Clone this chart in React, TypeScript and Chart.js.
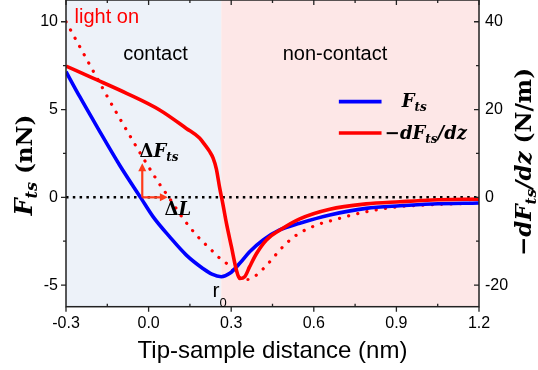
import React, { useEffect, useRef } from 'react';
import { Chart, registerables } from 'chart.js';

Chart.register(...registerables);

// ---------- data ----------
const xTicks = [-0.3, 0, 0.3, 0.6, 0.9, 1.2];
const xMinorTicks = [-0.15, 0.15, 0.45, 0.75, 1.05];
const leftTicks = [-5, 0, 5, 10];
const leftMinorTicks = [-2.5, 2.5, 7.5];
const rightTicks = [-20, 0, 20, 40];
const rightMinorTicks = [-10, 10, 30];

const X_MIN = -0.3;
const X_MAX = 1.2;
const L_MIN = -6.23;
const L_MAX = 11.24;
const R_MIN = -24.92;
const R_MAX = 44.96;

const r0 = 0.264; // contact / non-contact boundary (nm)

// F_ts (nN), left axis
const ftsX = [-0.3, -0.25, -0.184, -0.105, -0.027, 0.016, 0.076, 0.137, 0.197, 0.23, 0.264, 0.295, 0.331, 0.367, 0.416, 0.476, 0.549, 0.658, 0.79, 0.913, 1.03, 1.2];
const ftsY = [7.16, 5.73, 3.93, 1.83, -0.06, -1.1, -2.24, -3.29, -4.05, -4.38, -4.52, -4.33, -3.76, -3.1, -2.43, -1.86, -1.48, -1.01, -0.63, -0.48, -0.38, -0.32];

// -dF_ts/dz (N/m), right axis
const dfdzX = [-0.3, -0.2, -0.08, 0.04, 0.137, 0.185, 0.204, 0.222, 0.234, 0.246, 0.258, 0.27, 0.283, 0.301, 0.319, 0.331, 0.349, 0.367, 0.392, 0.428, 0.476, 0.549, 0.658, 0.79, 0.913, 1.03, 1.2];
const dfdzY = [29.9, 27.1, 23.7, 19.9, 15.7, 13.5, 12.0, 10.4, 9.0, 6.5, 2.2, -1.6, -6.0, -11.3, -16.6, -18.5, -18.1, -15.8, -12.8, -9.7, -7.5, -4.9, -2.7, -1.5, -1.0, -0.6, -0.4];

// light on (dotted), left axis
const lightX = [-0.3, -0.2, -0.112, 0.034, 0.076, 0.125, 0.179, 0.228, 0.252, 0.283, 0.33, 0.36, 0.39, 0.44, 0.488, 0.537, 0.61, 0.67, 0.79, 0.913, 1.03, 1.2];
const lightY = [10.0, 7.16, 4.69, 0.89, -0.06, -1.2, -2.24, -3.0, -3.38, -3.76, -4.55, -4.68, -4.45, -3.67, -2.81, -2.15, -1.58, -1.3, -0.82, -0.53, -0.42, -0.32];

// arrows: ΔF_ts (vertical) and ΔL (horizontal), from the blue zero crossing
const arrowOrigin = [-0.023, 0];
const arrowDF = 1.94;
const arrowDL = 0.07;

const zip = (xs: number[], ys: number[]) => xs.map((x, i) => ({ x, y: ys[i] }));

// ---------- text helpers ----------
type Seg = { t: string; f: string; dy?: number };
const SERIF = '"DejaVu Serif", "Liberation Serif", serif';
const SANS = '"Liberation Sans", Arial, sans-serif';

function segsWidth(ctx: CanvasRenderingContext2D, segs: Seg[]) {
  let w = 0;
  for (const s of segs) {
    ctx.font = s.f;
    w += ctx.measureText(s.t).width;
  }
  return w;
}
function drawSegs(ctx: CanvasRenderingContext2D, segs: Seg[], x: number, y: number) {
  let cx = x;
  for (const s of segs) {
    ctx.font = s.f;
    ctx.fillText(s.t, cx, y + (s.dy || 0));
    cx += ctx.measureText(s.t).width;
  }
}

function arrow(ctx: CanvasRenderingContext2D, x1: number, y1: number, x2: number, y2: number, color: string) {
  const ang = Math.atan2(y2 - y1, x2 - x1);
  const hl = 8;
  const hw = 4;
  ctx.save();
  ctx.strokeStyle = color;
  ctx.fillStyle = color;
  ctx.lineWidth = 2.2;
  ctx.beginPath();
  ctx.moveTo(x1, y1);
  ctx.lineTo(x2 - Math.cos(ang) * hl * 0.8, y2 - Math.sin(ang) * hl * 0.8);
  ctx.stroke();
  ctx.beginPath();
  ctx.moveTo(x2, y2);
  ctx.lineTo(x2 - Math.cos(ang) * hl - Math.sin(ang) * hw, y2 - Math.sin(ang) * hl + Math.cos(ang) * hw);
  ctx.lineTo(x2 - Math.cos(ang) * hl + Math.sin(ang) * hw, y2 - Math.sin(ang) * hl - Math.cos(ang) * hw);
  ctx.closePath();
  ctx.fill();
  ctx.restore();
}

const decorPlugin = {
  id: 'decor',
  beforeDatasetsDraw(chart: any) {
    const { ctx, chartArea: a, scales } = chart;
    const xr = scales.x.getPixelForValue(r0);
    ctx.save();
    ctx.fillStyle = '#edf2f9';
    ctx.fillRect(a.left, a.top, xr - a.left, a.bottom - a.top);
    ctx.fillStyle = '#fde7e7';
    ctx.fillRect(xr, a.top, a.right - xr, a.bottom - a.top);
    const y0 = scales.y.getPixelForValue(0);
    ctx.strokeStyle = '#000';
    ctx.lineWidth = 2.5;
    ctx.setLineDash([2.5, 4.3]);
    ctx.beginPath();
    ctx.moveTo(a.left, y0);
    ctx.lineTo(a.right, y0);
    ctx.stroke();
    ctx.restore();
  },
  afterDraw(chart: any) {
    const { ctx, chartArea: a, scales } = chart;
    const sx = scales.x, sy = scales.y, sy2 = scales.y2;
    ctx.save();
    // frame
    ctx.strokeStyle = '#222';
    ctx.lineWidth = 1.5;
    ctx.strokeRect(a.left, a.top, a.right - a.left, a.bottom - a.top);
    ctx.lineWidth = 1.3;
    ctx.beginPath();
    for (const v of xTicks) {
      const p = sx.getPixelForValue(v);
      ctx.moveTo(p, a.bottom); ctx.lineTo(p, a.bottom + 5);
      ctx.moveTo(p, a.top); ctx.lineTo(p, a.top + 5);
    }
    for (const v of xMinorTicks) {
      const p = sx.getPixelForValue(v);
      ctx.moveTo(p, a.bottom); ctx.lineTo(p, a.bottom - 3);
      ctx.moveTo(p, a.top); ctx.lineTo(p, a.top + 3);
    }
    for (const v of leftTicks) {
      const p = sy.getPixelForValue(v);
      ctx.moveTo(a.left, p); ctx.lineTo(a.left - 5, p);
    }
    for (const v of leftMinorTicks) {
      const p = sy.getPixelForValue(v);
      ctx.moveTo(a.left, p); ctx.lineTo(a.left - 3, p);
    }
    for (const v of rightTicks) {
      const p = sy2.getPixelForValue(v);
      ctx.moveTo(a.right, p); ctx.lineTo(a.right - 5, p);
    }
    for (const v of rightMinorTicks) {
      const p = sy2.getPixelForValue(v);
      ctx.moveTo(a.right, p); ctx.lineTo(a.right - 3, p);
    }
    ctx.stroke();

    // arrows
    const ox = sx.getPixelForValue(arrowOrigin[0]);
    const oy = sy.getPixelForValue(arrowOrigin[1]);
    arrow(ctx, ox, oy, ox, sy.getPixelForValue(arrowDF), '#ff3a1a');
    arrow(ctx, ox, oy, sx.getPixelForValue(arrowDL), oy, '#ff3a1a');

    ctx.textBaseline = 'alphabetic';
    ctx.textAlign = 'left';
    // annotation labels
    const bi = (s: number) => `italic bold ${s}px ${SERIF}`;
    const b = (s: number) => `bold ${s}px ${SERIF}`;
    ctx.fillStyle = '#000';
    drawSegs(ctx, [{ t: 'Δ', f: b(18) }, { t: 'F', f: bi(18) }, { t: 'ts', f: bi(12), dy: 4 }], sx.getPixelForValue(-0.033), sy.getPixelForValue(2.3));
    drawSegs(ctx, [{ t: 'Δ', f: b(18) }, { t: 'L', f: bi(18) }], sx.getPixelForValue(0.058), sy.getPixelForValue(-1.0));

    ctx.font = `20px ${SANS}`;
    ctx.fillStyle = '#ff0000';
    ctx.fillText('light on', sx.getPixelForValue(-0.269), sy.getPixelForValue(9.95));
    ctx.fillStyle = '#000';
    ctx.textAlign = 'center';
    ctx.fillText('contact', sx.getPixelForValue(0.025), sy.getPixelForValue(7.85));
    ctx.fillText('non-contact', sx.getPixelForValue(0.677), sy.getPixelForValue(7.85));
    ctx.textAlign = 'left';
    drawSegs(ctx, [{ t: 'r', f: `21px ${SANS}` }, { t: '0', f: `13px ${SANS}`, dy: 10 }], sx.getPixelForValue(0.232), sy.getPixelForValue(-5.65));

    // legend
    const lx1 = sx.getPixelForValue(0.691), lx2 = sx.getPixelForValue(0.846);
    const ly1 = sy.getPixelForValue(5.45), ly2 = sy.getPixelForValue(3.66);
    ctx.lineWidth = 3.6;
    ctx.strokeStyle = '#0000ff';
    ctx.beginPath(); ctx.moveTo(lx1, ly1); ctx.lineTo(lx2, ly1); ctx.stroke();
    ctx.strokeStyle = '#ff0000';
    ctx.beginPath(); ctx.moveTo(lx1, ly2); ctx.lineTo(lx2, ly2); ctx.stroke();
    ctx.fillStyle = '#000';
    drawSegs(ctx, [{ t: 'F', f: bi(18) }, { t: 'ts', f: bi(12), dy: 4 }], sx.getPixelForValue(0.919), ly1 + 5);
    drawSegs(ctx, [{ t: '−', f: b(18) }, { t: 'dF', f: bi(18) }, { t: 'ts', f: bi(12), dy: 4 }, { t: '/', f: bi(18) }, { t: 'dz', f: bi(18) }], sx.getPixelForValue(0.858), ly2 + 6);

    // bottom title
    ctx.font = `24px ${SANS}`;
    ctx.textAlign = 'center';
    ctx.fillText('Tip-sample distance (nm)', (a.left + a.right) / 2, 358);
    ctx.textAlign = 'left';

    // left title (rotated)
    const lt: Seg[] = [{ t: 'F', f: bi(24) }, { t: 'ts', f: bi(16), dy: 5 }, { t: ' (nN)', f: b(23) }];
    const lw = segsWidth(ctx, lt);
    ctx.save();
    ctx.translate(32, 165);
    ctx.rotate(-Math.PI / 2);
    drawSegs(ctx, lt, -lw / 2, 0);
    ctx.restore();

    // right title (rotated)
    const rt: Seg[] = [
      { t: '−', f: b(23) }, { t: 'dF', f: bi(23) }, { t: 'ts', f: bi(15), dy: 5 },
      { t: '/', f: bi(23) }, { t: 'dz', f: bi(23) }, { t: ' (N/m)', f: b(23) },
    ];
    const rw = segsWidth(ctx, rt);
    ctx.save();
    ctx.translate(531, 162);
    ctx.rotate(-Math.PI / 2);
    drawSegs(ctx, rt, -rw / 2, 0);
    ctx.restore();

    ctx.restore();
  },
};

export default function App() {
  const ref = useRef<HTMLCanvasElement | null>(null);
  useEffect(() => {
    if (!ref.current) return;
    Chart.defaults.color = '#000';
    Chart.defaults.font.family = SANS;
    const tickFont = { size: 16, family: SANS };
    const chart = new Chart(ref.current, {
      type: 'line',
      data: {
        datasets: [
          {
            label: '-dFts/dz',
            data: zip(dfdzX, dfdzY),
            yAxisID: 'y2',
            borderColor: '#ff0000',
            borderWidth: 3.6,
            pointRadius: 0,
            cubicInterpolationMode: 'monotone',
            fill: false,
          },
          {
            label: 'Fts',
            data: zip(ftsX, ftsY),
            yAxisID: 'y',
            borderColor: '#0000ff',
            borderWidth: 3.6,
            pointRadius: 0,
            cubicInterpolationMode: 'monotone',
            fill: false,
          },
          {
            label: 'light on',
            data: zip(lightX, lightY),
            yAxisID: 'y',
            borderColor: '#ff0000',
            borderWidth: 3.2,
            borderDash: [0.1, 9.3],
            borderCapStyle: 'round',
            pointRadius: 0,
            cubicInterpolationMode: 'monotone',
            fill: false,
          },
        ],
      },
      options: {
        responsive: false,
        animation: false,
        devicePixelRatio: 1,
        layout: { padding: 0 },
        plugins: { legend: { display: false }, tooltip: { enabled: false }, title: { display: false } },
        scales: {
          x: {
            type: 'linear',
            position: 'bottom',
            min: X_MIN,
            max: X_MAX,
            grid: { display: false, drawTicks: false },
            border: { display: false },
            ticks: { font: tickFont, padding: 7, maxRotation: 0, callback: (v: any) => Number(v).toFixed(1) },
            afterBuildTicks: (s: any) => { s.ticks = xTicks.map((v) => ({ value: v })); },
            afterFit: (s: any) => { s.height = 63.3; s.paddingLeft = 0; s.paddingRight = 0; },
          },
          y: {
            type: 'linear',
            position: 'left',
            min: L_MIN,
            max: L_MAX,
            grid: { display: false, drawTicks: false },
            border: { display: false },
            ticks: { font: tickFont, padding: 8 },
            afterBuildTicks: (s: any) => { s.ticks = leftTicks.map((v) => ({ value: v })); },
            afterFit: (s: any) => { s.width = 66; s.paddingTop = 0; s.paddingBottom = 0; },
          },
          y2: {
            type: 'linear',
            position: 'right',
            min: R_MIN,
            max: R_MAX,
            grid: { display: false, drawTicks: false },
            border: { display: false },
            ticks: { font: tickFont, padding: 6 },
            afterBuildTicks: (s: any) => { s.ticks = rightTicks.map((v) => ({ value: v })); },
            afterFit: (s: any) => { s.width = 59; s.paddingTop = 0; s.paddingBottom = 0; },
          },
        },
      } as any,
      plugins: [decorPlugin],
    });
    return () => chart.destroy();
  }, []);
  return (
    <div style={{ position: 'fixed', left: 0, top: 0, width: 538, height: 370, background: '#fff' }}>
      <canvas ref={ref} width={538} height={370} />
    </div>
  );
}
